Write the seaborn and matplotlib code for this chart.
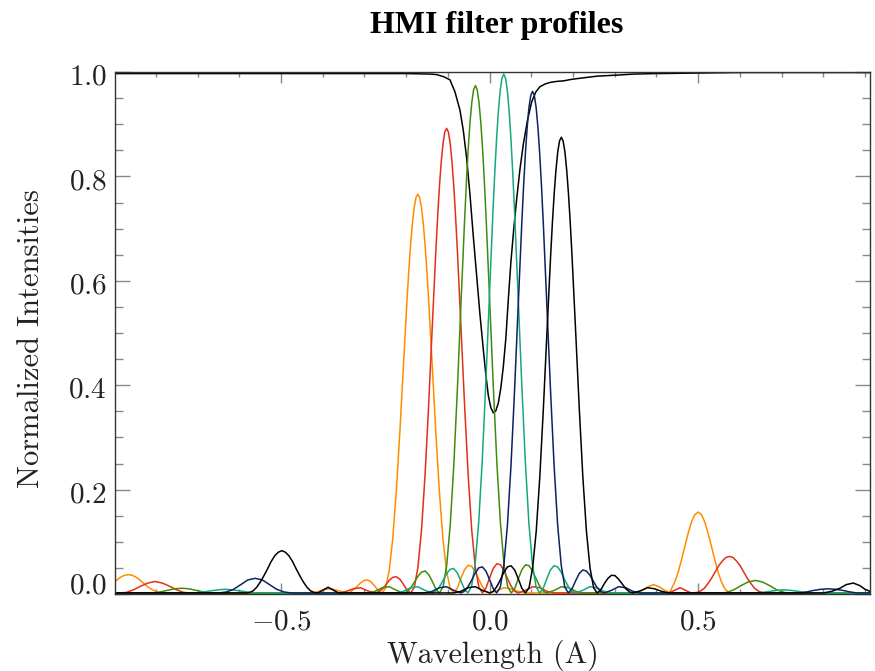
import matplotlib

matplotlib.use("Agg")
import matplotlib.pyplot as plt
import matplotlib.transforms as mtransforms
from matplotlib.ticker import MultipleLocator
import pandas as pd
import seaborn as sns

# --- solar line profile (black, normalised) ---
wl_line = [-0.898, -0.5, -0.2, -0.14, -0.127, -0.11, -0.095, -0.083, -0.071, -0.063,
           -0.055, -0.047, -0.039, -0.031, -0.023, -0.015, -0.009, -0.003, 0.003, 0.009,
           0.015, 0.021, 0.027, 0.033, 0.039, 0.045, 0.051, 0.058, 0.065, 0.073,
           0.081, 0.091, 0.101, 0.111, 0.121, 0.133, 0.145, 0.161, 0.177, 0.197,
           0.217, 0.237, 0.257, 0.28, 0.305, 0.344, 0.40, 0.50, 0.60, 0.912]
int_line = [0.997, 0.997, 0.997, 0.996, 0.995, 0.991, 0.985, 0.962, 0.927, 0.888,
            0.835, 0.765, 0.685, 0.61, 0.535, 0.468, 0.42, 0.38, 0.357, 0.347,
            0.351, 0.366, 0.395, 0.436, 0.49, 0.565, 0.635, 0.70, 0.757, 0.815,
            0.862, 0.908, 0.943, 0.962, 0.972, 0.977, 0.980, 0.982, 0.983, 0.986,
            0.988, 0.990, 0.992, 0.993, 0.994, 0.996, 0.997, 0.998, 0.999, 0.999]

# --- filter 1 (orange, -172 mA) ---
wl_f1 = [-0.900, -0.8918, -0.8832, -0.8746, -0.866, -0.8574, -0.8488, -0.8402, -0.8316, -0.823,
         -0.8144, -0.8058, -0.7972, -0.7886, -0.780,
         -0.430, -0.4128, -0.3956, -0.3784, -0.3612, -0.344, -0.3354, -0.3268, -0.3182, -0.3096,
         -0.301, -0.2924, -0.2838, -0.2752, -0.2666, -0.258, -0.2494, -0.2408, -0.2322, -0.2236,
         -0.215, -0.2064,
         -0.1978, -0.1935, -0.1892, -0.1849, -0.1806, -0.1763, -0.172, -0.1677, -0.1634, -0.1591,
         -0.1548, -0.1505, -0.1462,
         -0.1376, -0.129, -0.1204, -0.1118, -0.1032, -0.0946, -0.086, -0.0774, -0.0688, -0.0602,
         -0.0516, -0.043, -0.0344, -0.0258, -0.0172, -0.0086, 0.0, 0.0172, 0.0344, 0.0516,
         0.0688, 0.086,
         0.353, 0.366, 0.380, 0.393, 0.406, 0.420, 0.432,
         0.436, 0.444, 0.452, 0.460, 0.468, 0.476, 0.484, 0.492, 0.500, 0.508,
         0.516, 0.524, 0.532, 0.540, 0.548, 0.556, 0.564, 0.572, 0.580,
         0.912]
int_f1 = [0.022, 0.028, 0.033, 0.036, 0.037, 0.036, 0.033, 0.028, 0.022, 0.016,
          0.011, 0.007, 0.004, 0.002, 0.002,
          0.002, 0.004, 0.009, 0.010, 0.006, 0.002, 0.003, 0.008, 0.014, 0.021,
          0.026, 0.027, 0.023, 0.015, 0.006, 0.002, 0.011, 0.044, 0.105, 0.197,
          0.312, 0.440,
          0.565, 0.621, 0.671, 0.711, 0.741, 0.760, 0.766, 0.760, 0.741, 0.711,
          0.671, 0.621, 0.565,
          0.440, 0.312, 0.197, 0.105, 0.044, 0.011, 0.002, 0.011, 0.030, 0.046,
          0.055, 0.053, 0.043, 0.028, 0.014, 0.005, 0.002, 0.006, 0.012, 0.010,
          0.005, 0.002,
          0.002, 0.007, 0.014, 0.018, 0.014, 0.007, 0.003,
          0.010, 0.023, 0.041, 0.065, 0.091, 0.116, 0.138, 0.152, 0.157, 0.152,
          0.138, 0.116, 0.091, 0.065, 0.041, 0.023, 0.010, 0.004, 0.002,
          0.002]

# --- filter 2 (red, -103 mA) ---
wl_f2 = [-0.900,
         -0.888, -0.8708, -0.8536, -0.8364, -0.8192, -0.802, -0.7848, -0.7676, -0.7504, -0.7332, -0.716,
         -0.361, -0.3438, -0.3266, -0.3094, -0.2922, -0.275, -0.2664, -0.2578, -0.2492, -0.2406,
         -0.232, -0.2234, -0.2148, -0.2062, -0.1976, -0.189, -0.1804, -0.1718, -0.1632, -0.1546,
         -0.146, -0.1374,
         -0.1288, -0.1245, -0.1202, -0.1159, -0.1116, -0.1073, -0.103, -0.0987, -0.0944, -0.0901,
         -0.0858, -0.0815, -0.0772,
         -0.0686, -0.06, -0.0514, -0.0428, -0.0342, -0.0256, -0.017, -0.0084, 0.0002, 0.0088,
         0.0174, 0.026, 0.0346, 0.0432, 0.0518, 0.0604, 0.069, 0.0862, 0.1034, 0.1206,
         0.1378, 0.155,
         0.430, 0.443, 0.457, 0.470, 0.483,
         0.4976, 0.5062, 0.5148, 0.5234, 0.532, 0.5406, 0.5492, 0.5578, 0.5664, 0.575,
         0.5836, 0.5922, 0.6008, 0.6094, 0.618, 0.6266, 0.6352, 0.6438, 0.6524, 0.661,
         0.912]
int_f2 = [0.002,
          0.002, 0.003, 0.008, 0.015, 0.021, 0.024, 0.021, 0.015, 0.008, 0.003, 0.002,
          0.002, 0.005, 0.010, 0.012, 0.006, 0.002, 0.004, 0.009, 0.017, 0.026,
          0.032, 0.033, 0.028, 0.018, 0.007, 0.002, 0.013, 0.051, 0.122, 0.229,
          0.363, 0.512,
          0.658, 0.723, 0.781, 0.828, 0.863, 0.885, 0.892, 0.885, 0.863, 0.828,
          0.781, 0.723, 0.658,
          0.512, 0.363, 0.229, 0.122, 0.051, 0.013, 0.002, 0.012, 0.031, 0.049,
          0.058, 0.056, 0.045, 0.029, 0.015, 0.005, 0.002, 0.007, 0.014, 0.012,
          0.005, 0.002,
          0.002, 0.007, 0.012, 0.007, 0.002,
          0.003, 0.006, 0.011, 0.020, 0.030, 0.042, 0.054, 0.063, 0.070, 0.072,
          0.070, 0.063, 0.054, 0.042, 0.030, 0.020, 0.011, 0.006, 0.003, 0.002,
          0.002]

# --- filter 3 (green, -34 mA) ---
wl_f3 = [-0.900,
         -0.8068, -0.7896, -0.7724, -0.7552, -0.738, -0.7208, -0.7036, -0.6864, -0.6692,
         -0.292, -0.2748, -0.2576, -0.2404, -0.2232, -0.206, -0.1974, -0.1888, -0.1802, -0.1716,
         -0.163, -0.1544, -0.1458, -0.1372, -0.1286, -0.12, -0.1114, -0.1028, -0.0942, -0.0856,
         -0.077, -0.0684,
         -0.0598, -0.0555, -0.0512, -0.0469, -0.0426, -0.0383, -0.034, -0.0297, -0.0254, -0.0211,
         -0.0168, -0.0125, -0.0082,
         0.0004, 0.009, 0.0176, 0.0262, 0.0348, 0.0434, 0.052, 0.0606, 0.0692, 0.0778,
         0.0864, 0.095, 0.1036, 0.1122, 0.1208, 0.1294, 0.138, 0.1552, 0.1724, 0.1896,
         0.2068, 0.224,
         0.551, 0.5682, 0.5854, 0.6026, 0.6198, 0.637, 0.6542, 0.6714, 0.6886, 0.7058, 0.723,
         0.912]
int_f3 = [0.002,
          0.002, 0.004, 0.007, 0.010, 0.011, 0.010, 0.007, 0.004, 0.002,
          0.002, 0.005, 0.012, 0.014, 0.007, 0.002, 0.004, 0.012, 0.023, 0.034,
          0.042, 0.044, 0.037, 0.024, 0.009, 0.002, 0.014, 0.055, 0.134, 0.249,
          0.396, 0.559,
          0.718, 0.790, 0.853, 0.904, 0.942, 0.966, 0.974, 0.966, 0.942, 0.904,
          0.853, 0.790, 0.718,
          0.559, 0.396, 0.249, 0.134, 0.055, 0.014, 0.002, 0.011, 0.030, 0.047,
          0.056, 0.054, 0.043, 0.028, 0.014, 0.005, 0.002, 0.007, 0.014, 0.012,
          0.005, 0.002,
          0.002, 0.003, 0.008, 0.016, 0.023, 0.026, 0.023, 0.016, 0.008, 0.003, 0.002,
          0.002]

# --- filter 4 (teal, +34 mA) ---
wl_f4 = [-0.900,
         -0.7028, -0.6856, -0.6684, -0.6512, -0.634, -0.6168, -0.5996, -0.5824, -0.5652,
         -0.224, -0.2068, -0.1896, -0.1724, -0.1552, -0.138, -0.1294, -0.1208, -0.1122, -0.1036,
         -0.095, -0.0864, -0.0778, -0.0692, -0.0606, -0.052, -0.0434, -0.0348, -0.0262, -0.0176,
         -0.009, -0.0004,
         0.0082, 0.0125, 0.0168, 0.0211, 0.0254, 0.0297, 0.034, 0.0383, 0.0426, 0.0469,
         0.0512, 0.0555, 0.0598,
         0.0684, 0.077, 0.0856, 0.0942, 0.1028, 0.1114, 0.12, 0.1286, 0.1372, 0.1458,
         0.1544, 0.163, 0.1716, 0.1802, 0.1888, 0.1974, 0.206, 0.2232, 0.2404, 0.2576,
         0.2748, 0.292,
         0.6372, 0.6544, 0.6716, 0.6888, 0.706, 0.7232, 0.7404, 0.7576, 0.7748,
         0.912]
int_f4 = [0.002,
          0.002, 0.004, 0.006, 0.008, 0.009, 0.008, 0.006, 0.004, 0.002,
          0.002, 0.005, 0.012, 0.014, 0.007, 0.002, 0.005, 0.013, 0.025, 0.038,
          0.047, 0.049, 0.041, 0.026, 0.010, 0.002, 0.014, 0.056, 0.136, 0.255,
          0.405, 0.571,
          0.734, 0.808, 0.872, 0.925, 0.964, 0.988, 0.996, 0.988, 0.964, 0.925,
          0.872, 0.808, 0.734,
          0.571, 0.405, 0.255, 0.136, 0.056, 0.014, 0.002, 0.011, 0.029, 0.046,
          0.054, 0.052, 0.042, 0.027, 0.014, 0.005, 0.002, 0.007, 0.014, 0.012,
          0.005, 0.002,
          0.002, 0.003, 0.005, 0.007, 0.008, 0.007, 0.005, 0.003, 0.002,
          0.002]

# --- filter 5 (navy, +103 mA) ---
wl_f5 = [-0.900,
         -0.648, -0.6308, -0.6136, -0.5964, -0.5792, -0.562, -0.5448, -0.5276, -0.5104, -0.4932, -0.476,
         -0.155, -0.1378, -0.1206, -0.1034, -0.0862, -0.069, -0.0604, -0.0518, -0.0432, -0.0346,
         -0.026, -0.0174, -0.0088, -0.0002, 0.0084, 0.017, 0.0256, 0.0342, 0.0428, 0.0514,
         0.06, 0.0686,
         0.0772, 0.0815, 0.0858, 0.0901, 0.0944, 0.0987, 0.103, 0.1073, 0.1116, 0.1159,
         0.1202, 0.1245, 0.1288,
         0.1374, 0.146, 0.1546, 0.1632, 0.1718, 0.1804, 0.189, 0.1976, 0.2062, 0.2148,
         0.2234, 0.232, 0.2406, 0.2492, 0.2578, 0.2664, 0.275, 0.2922, 0.3094, 0.3266,
         0.3438, 0.361,
         0.7432, 0.7604, 0.7776, 0.7948, 0.812, 0.8292, 0.8464, 0.8636, 0.8808,
         0.912]
int_f5 = [0.002,
          0.002, 0.004, 0.009, 0.018, 0.027, 0.030, 0.027, 0.018, 0.009, 0.004, 0.002,
          0.002, 0.005, 0.012, 0.014, 0.007, 0.002, 0.005, 0.014, 0.026, 0.040,
          0.050, 0.052, 0.044, 0.028, 0.011, 0.002, 0.013, 0.055, 0.132, 0.247,
          0.392, 0.552,
          0.710, 0.781, 0.843, 0.894, 0.932, 0.955, 0.963, 0.955, 0.932, 0.894,
          0.843, 0.781, 0.710,
          0.552, 0.392, 0.247, 0.132, 0.055, 0.013, 0.002, 0.010, 0.025, 0.039,
          0.046, 0.044, 0.036, 0.024, 0.012, 0.005, 0.002, 0.007, 0.014, 0.012,
          0.005, 0.002,
          0.002, 0.004, 0.007, 0.009, 0.010, 0.009, 0.007, 0.004, 0.002,
          0.002]

# --- filter 6 (black, +172 mA) ---
wl_f6 = [-0.900,
         -0.584, -0.5754, -0.5668, -0.5582, -0.5496, -0.541, -0.5324, -0.5238, -0.5152, -0.5066,
         -0.498, -0.4894, -0.4808, -0.4722, -0.4636, -0.455, -0.4464, -0.4378, -0.4292, -0.4206, -0.412,
         -0.400, -0.387, -0.374, -0.362,
         -0.086, -0.0688, -0.0516, -0.0344, -0.0172, 0.0, 0.0086, 0.0172, 0.0258, 0.0344,
         0.043, 0.0516, 0.0602, 0.0688, 0.0774, 0.086, 0.0946, 0.1032, 0.1118, 0.1204,
         0.129, 0.1376,
         0.1462, 0.1505, 0.1548, 0.1591, 0.1634, 0.1677, 0.172, 0.1763, 0.1806, 0.1849,
         0.1892, 0.1935, 0.1978,
         0.2064, 0.215, 0.2236, 0.2322, 0.2408, 0.2494, 0.258, 0.2666, 0.2752, 0.2838,
         0.2924, 0.301, 0.3096, 0.3182, 0.3268, 0.3354, 0.344, 0.3612, 0.3784, 0.3956,
         0.4128, 0.43,
         0.80, 0.82, 0.84, 0.855, 0.872, 0.888, 0.90, 0.912]
int_f6 = [0.002,
          0.002, 0.003, 0.006, 0.013, 0.023, 0.035, 0.048, 0.062, 0.073, 0.080,
          0.083, 0.080, 0.073, 0.062, 0.048, 0.035, 0.023, 0.013, 0.006, 0.003, 0.002,
          0.007, 0.013, 0.007, 0.002,
          0.002, 0.005, 0.012, 0.014, 0.007, 0.002, 0.005, 0.014, 0.027, 0.042,
          0.052, 0.054, 0.046, 0.029, 0.011, 0.002, 0.012, 0.050, 0.120, 0.224,
          0.356, 0.502,
          0.645, 0.710, 0.766, 0.812, 0.847, 0.868, 0.875, 0.868, 0.847, 0.812,
          0.766, 0.710, 0.645,
          0.502, 0.356, 0.224, 0.120, 0.050, 0.012, 0.002, 0.008, 0.020, 0.030,
          0.036, 0.035, 0.028, 0.019, 0.010, 0.004, 0.002, 0.006, 0.012, 0.010,
          0.005, 0.002,
          0.002, 0.005, 0.011, 0.018, 0.021, 0.016, 0.009, 0.005]

filter_names = ["F1", "F2", "F3", "F4", "F5", "F6"]
filter_colors = ["#FF8C00", "#E2301A", "#3F8C0C", "#14A87C", "#0B2362", "#000000"]

x_ticks = [-0.5, 0.0, 0.5]
x_ticklabels = [r"$-0.5$", r"$0.0$", r"$0.5$"]
y_ticks = [0.0, 0.2, 0.4, 0.6, 0.8, 1.0]
y_ticklabels = [r"$0.0$", r"$0.2$", r"$0.4$", r"$0.6$", r"$0.8$", r"$1.0$"]

sns.set_style("ticks")
plt.rcParams.update({
    "font.family": ["cmr10", "DejaVu Serif"],
    "mathtext.fontset": "cm",
    "axes.unicode_minus": False,
    "axes.edgecolor": "#333333",
    "axes.linewidth": 1.0,
})

filters = [(wl_f1, int_f1), (wl_f2, int_f2), (wl_f3, int_f3),
           (wl_f4, int_f4), (wl_f5, int_f5), (wl_f6, int_f6)]
frames = []
for name, (wl, tr) in zip(filter_names, filters):
    frames.append(pd.DataFrame({"wavelength": wl, "intensity": tr, "filter": name}))
df = pd.concat(frames, ignore_index=True)
line_df = pd.DataFrame({"wavelength": wl_line, "intensity": int_line})

fig = plt.figure(figsize=(8.75, 6.71), dpi=100)
ax = fig.add_axes([115 / 875, 1 - 594 / 671, 755 / 875, 522 / 671])

sns.lineplot(data=line_df, x="wavelength", y="intensity", color="black", linewidth=1.1,
             estimator=None, sort=False, ax=ax)
sns.lineplot(data=df, x="wavelength", y="intensity", hue="filter",
             palette=dict(zip(filter_names, filter_colors)), linewidth=1.1,
             estimator=None, sort=False, legend=False, ax=ax)

ax.set_xlim(-0.898, 0.912)
ax.set_ylim(0.0, 1.0)
ax.set_xlabel("")
ax.set_ylabel("")
ax.set_xticks(x_ticks)
ax.set_xticklabels(x_ticklabels)
ax.set_yticks(y_ticks)
ax.set_yticklabels(y_ticklabels)
ax.xaxis.set_minor_locator(MultipleLocator(0.1))
ax.yaxis.set_minor_locator(MultipleLocator(0.05))
ax.tick_params(which="both", direction="in", top=True, right=True, color="#888888",
               width=1.0, labelcolor="#222222")
ax.tick_params(axis="x", which="major", length=8, pad=11, labelsize=21)
ax.tick_params(axis="x", which="minor", length=3.6)
ax.tick_params(axis="y", which="major", length=11, pad=6, labelsize=21)
ax.tick_params(axis="y", which="minor", length=5.8)

# IDL-style: lowest y label nudged up, others slightly down
for i, lab in enumerate(ax.get_yticklabels()):
    dy = 0.11 if i == 0 else -0.025
    lab.set_transform(lab.get_transform() + mtransforms.ScaledTranslation(0, dy, fig.dpi_scale_trans))

fig.text(497 / 875, 1 - 33 / 671, "HMI filter profiles", ha="center", va="baseline",
         fontsize=23, fontweight="bold", family="Liberation Serif", color="black")
fig.text(493 / 875, 1 - 663 / 671, "Wavelength (A)", ha="center", va="baseline",
         fontsize=21.5, color="#222222")
fig.text(31 / 875, 1 - 339 / 671, "Normalized Intensities", rotation=90, ha="center",
         va="center", fontsize=22, color="#222222")

fig.savefig("out.png", dpi=100, facecolor="white")
